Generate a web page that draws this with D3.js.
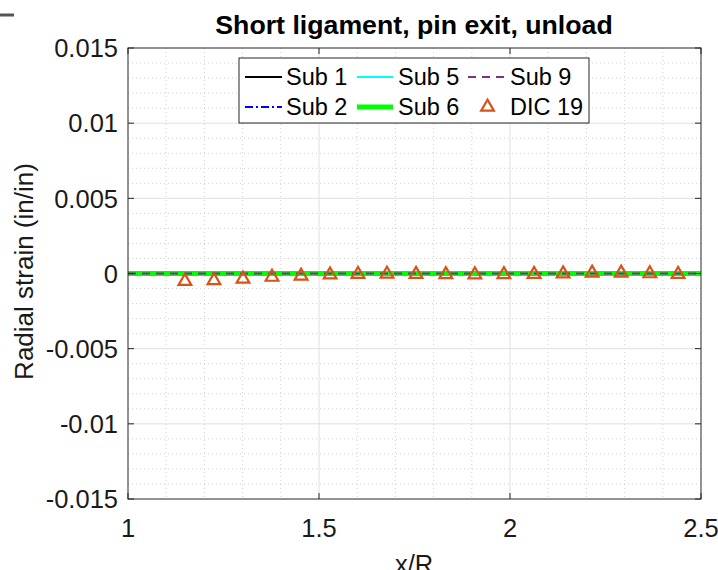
<!DOCTYPE html>
<html><head><meta charset="utf-8">
<script src="https://cdn.jsdelivr.net/npm/d3@7"></script>
<style>body{margin:0;background:#fff}svg{display:block}text{font-family:"Liberation Sans",Arial,sans-serif}</style>
</head><body>
<svg id="c" width="718" height="570"></svg>
<script>
const xTicks = [1, 1.5, 2, 2.5];
const yTicks = [-0.015, -0.01, -0.005, 0, 0.005, 0.01, 0.015];
const yTickLabels = ["-0.015", "-0.01", "-0.005", "0", "0.005", "0.01", "0.015"];
const lineX = [1, 1.25, 1.5, 1.75, 2, 2.25, 2.5];
const sub1 = [0, 0, 0, 0, 0, 0, 0];
const sub2 = [0, 0, 0, 0, 0, 0, 0];
const sub5 = [0, 0, 0, 0, 0, 0, 0];
const sub6 = [0, 0, 0, 0, 0, 0, 0];
const sub9 = [0, 0, 0, 0, 0, 0, 0];
const dicX = [1.149, 1.225, 1.301, 1.377, 1.453, 1.529, 1.602, 1.678, 1.754, 1.832, 1.908, 1.984, 2.063, 2.139, 2.215, 2.291, 2.366, 2.440];
const dicY = [-0.00045, -0.0004, -0.0003, -0.00017, -0.0001, -0.00002, 0.00002, 0.00003, 0.00002, 0.0, -0.00001, 0.0, 0.00002, 0.00005, 0.0001, 0.0001, 0.00006, 0.00002];

const svg = d3.select("#c");
const L = 128, R = 701, T = 48, B = 499;
const x = d3.scaleLinear().domain([1, 2.5]).range([L, R]);
const y = d3.scaleLinear().domain([-0.015, 0.015]).range([B, T]);

// corner artifact
svg.append("line").attr("x1", 0).attr("x2", 14).attr("y1", 15).attr("y2", 15).attr("stroke", "#555").attr("stroke-width", 3);

// minor grid
const g = svg.append("g");
const xMinor = d3.range(11, 25).map(d => d / 10).filter(v => !xTicks.some(t => Math.abs(t - v) < 1e-9));
const yMinor = d3.range(-14, 15).map(d => d / 1000).filter(v => !yTicks.some(t => Math.abs(t - v) < 1e-9));
g.selectAll(".xm").data(xMinor).join("line").attr("x1", d => x(d)).attr("x2", d => x(d)).attr("y1", T).attr("y2", B)
  .attr("stroke", "#d0d0d0").attr("stroke-width", 1).attr("stroke-dasharray", "1,3");
g.selectAll(".ym").data(yMinor).join("line").attr("y1", d => y(d)).attr("y2", d => y(d)).attr("x1", L).attr("x2", R)
  .attr("stroke", "#d0d0d0").attr("stroke-width", 1).attr("stroke-dasharray", "1,3");
// major grid
g.selectAll(".xg").data(xTicks.slice(1, -1)).join("line").attr("x1", d => x(d)).attr("x2", d => x(d)).attr("y1", T).attr("y2", B)
  .attr("stroke", "#e0e0e0").attr("stroke-width", 1);
g.selectAll(".yg").data(yTicks.slice(1, -1)).join("line").attr("y1", d => y(d)).attr("y2", d => y(d)).attr("x1", L).attr("x2", R)
  .attr("stroke", "#e0e0e0").attr("stroke-width", 1);

// lines
const line = vals => d3.line().x((d, i) => x(lineX[i])).y(d => y(d))(vals);
svg.append("path").attr("d", line(sub1)).attr("fill", "none").attr("stroke", "#000").attr("stroke-width", 2);
svg.append("path").attr("d", line(sub2)).attr("fill", "none").attr("stroke", "#0000ff").attr("stroke-width", 2).attr("stroke-dasharray", "8,3,2,3");
svg.append("path").attr("d", line(sub5)).attr("fill", "none").attr("stroke", "#00ffff").attr("stroke-width", 2);
svg.append("path").attr("d", line(sub6)).attr("fill", "none").attr("stroke", "#00ff00").attr("stroke-width", 5);
svg.append("path").attr("d", line(sub9)).attr("fill", "none").attr("stroke", "#7e2f8e").attr("stroke-width", 2).attr("stroke-dasharray", "8,6");

// DIC markers
const tri = d3.symbol().type(d3.symbolTriangle).size(70);
svg.selectAll(".dic").data(dicX).join("path")
  .attr("d", tri).attr("transform", (d, i) => `translate(${x(d)},${y(dicY[i]) + 1})`)
  .attr("fill", "none").attr("stroke", "#d95319").attr("stroke-width", 2.2);

// axes box
const axc = "#262626";
svg.append("rect").attr("x", L).attr("y", T).attr("width", R - L).attr("height", B - T).attr("fill", "none").attr("stroke", axc).attr("stroke-width", 1);
const tk = 6;
svg.selectAll(".xt").data(xTicks).join("g").each(function (d) {
  const s = d3.select(this);
  s.append("line").attr("x1", x(d)).attr("x2", x(d)).attr("y1", B).attr("y2", B - tk).attr("stroke", axc);
  s.append("line").attr("x1", x(d)).attr("x2", x(d)).attr("y1", T).attr("y2", T + tk).attr("stroke", axc);
  s.append("text").attr("x", x(d)).attr("y", 537).attr("text-anchor", "middle").attr("font-size", 25.5).attr("fill", "#1a1a1a").text(d);
});
svg.selectAll(".yt").data(yTicks).join("g").each(function (d, i) {
  const s = d3.select(this);
  s.append("line").attr("y1", y(d)).attr("y2", y(d)).attr("x1", L).attr("x2", L + tk).attr("stroke", axc);
  s.append("line").attr("y1", y(d)).attr("y2", y(d)).attr("x1", R).attr("x2", R - tk).attr("stroke", axc);
  s.append("text").attr("x", 118).attr("y", y(d)).attr("dy", "0.36em").attr("text-anchor", "end").attr("font-size", 25.5).attr("fill", "#1a1a1a").text(yTickLabels[i]);
});

// title and labels
svg.append("text").attr("x", 414).attr("y", 34).attr("text-anchor", "middle").attr("font-size", 26.7).attr("font-weight", "bold").text("Short ligament, pin exit, unload");
svg.append("text").attr("x", 414).attr("y", 573).attr("text-anchor", "middle").attr("font-size", 25.5).attr("fill", "#1a1a1a").text("x/R");
svg.append("text").attr("transform", "translate(33,271.5) rotate(-90)").attr("text-anchor", "middle").attr("font-size", 26).attr("fill", "#1a1a1a").text("Radial strain (in/in)");

// legend
const lg = svg.append("g");
lg.append("rect").attr("x", 239).attr("y", 58).attr("width", 350).attr("height", 65).attr("fill", "#fff").attr("stroke", "#262626").attr("stroke-width", 1);
const items = [
  {name: "Sub 1", c: "#000", w: 2, da: null, col: 0, row: 0},
  {name: "Sub 2", c: "#0000ff", w: 2, da: "8,3,2,3", col: 0, row: 1},
  {name: "Sub 5", c: "#00ffff", w: 2, da: null, col: 1, row: 0},
  {name: "Sub 6", c: "#00ff00", w: 5, da: null, col: 1, row: 1},
  {name: "Sub 9", c: "#7e2f8e", w: 2, da: "8,6", col: 2, row: 0},
  {name: "DIC 19", c: "#d95319", marker: true, col: 2, row: 1}
];
const colX = [[245, 282, 286], [357, 393, 398], [468, 507, 510]];
const rowY = [77, 107];
items.forEach(it => {
  const cx = colX[it.col], ry = rowY[it.row];
  if (it.marker) {
    lg.append("path").attr("d", tri).attr("transform", `translate(${(cx[0] + cx[1]) / 2},${ry})`).attr("fill", "none").attr("stroke", it.c).attr("stroke-width", 2.2);
  } else {
    const l = lg.append("line").attr("x1", cx[0]).attr("x2", cx[1]).attr("y1", ry).attr("y2", ry).attr("stroke", it.c).attr("stroke-width", it.w);
    if (it.da) l.attr("stroke-dasharray", it.da);
  }
  lg.append("text").attr("x", cx[2]).attr("y", ry).attr("dy", "0.36em").attr("font-size", 23.5).text(it.name);
});
</script>
</body></html>
